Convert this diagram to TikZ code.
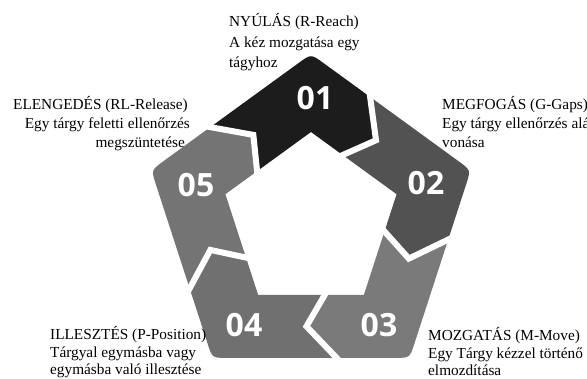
\documentclass[tikz,border=0pt]{standalone}
\usepackage{fontspec}
\setmainfont{Liberation Serif}
\newfontfamily\numfont{Open Sans}
\usetikzlibrary{calc}
\definecolor{segA}{HTML}{1C1C1C}
\definecolor{segB}{HTML}{525252}
\definecolor{segC}{HTML}{7A7A7A}
\definecolor{segD}{HTML}{707070}
\definecolor{segE}{HTML}{747474}
\begin{document}
\begin{tikzpicture}[x=1pt,y=1pt,
  lbl/.style={font=\fontsize{15.3}{19}\selectfont, inner sep=0pt, text=black},
  num/.style={font=\numfont\bfseries\fontsize{32}{32}\selectfont, text=white, inner sep=0pt},
  gapline/.style={draw=white, line width=6pt, line join=miter}]
\useasboundingbox (0,0) rectangle (587,-378);
\fill[white] (0,0) rectangle (587,-378);
\coordinate (C) at (311,-222);
\foreach \k in {0,...,4}{
  \pgfmathsetmacro\ang{90-72*\k}
  \coordinate (O\k) at ($(C)+(\ang:168)$);
  \coordinate (I\k) at ($(C)+(\ang:90)$);
  \coordinate (M\k) at ($(C)+(\ang:129)$);
}
\foreach \k in {0,...,4}{
  \pgfmathtruncatemacro\n{mod(\k+1,5)}
  \pgfmathtruncatemacro\p{mod(\k+4,5)}
  \coordinate (Bo\k) at ($(O\k)!0.37!(O\n)$);
  \coordinate (Bm\k) at ($(M\k)!0.53!(M\n)$);
  \coordinate (Bi\k) at ($(I\k)!0.37!(I\n)$);
  \coordinate (Ra\k) at ($(O\k)!15pt!(O\p)$);
  \coordinate (Rb\k) at ($(O\k)!15pt!(O\n)$);
}
\foreach \k/\c in {0/segA,1/segB,2/segC,3/segD,4/segE}{
  \pgfmathtruncatemacro\p{mod(\k+4,5)}
  \fill[\c] (Bo\p) -- (Ra\k) .. controls (O\k) .. (Rb\k) -- (Bo\k) -- (Bm\k) -- (Bi\k)
     -- (I\k) -- (Bi\p) -- (Bm\p) -- cycle;
}
\foreach \k in {0,...,4}{
  \draw[gapline] ($(Bo\k)!-6pt!(Bm\k)$) -- (Bm\k) -- ($(Bi\k)!-6pt!(Bm\k)$);
}
\node[num] (n1) at (315,-98) {01};
\node[num] (n2) at (426,-183) {02};
\node[num] (n3) at (379,-325) {03};
\node[num] (n4) at (244,-325) {04};
\node[num] (n5) at (196,-185) {05};
% labels
\node[lbl, anchor=base west] (ta1) at (229,-26) {NYÚLÁS (R-Reach)};
\node[lbl, anchor=base west] (ta2) at (229,-47) {A kéz mozgatása egy};
\node[lbl, anchor=base west] (ta3) at (229,-67) {tágyhoz};
\node[lbl, anchor=base east] (tb1) at (188,-109) {ELENGEDÉS (RL-Release)};
\node[lbl, anchor=base east] (tb2) at (190,-128) {Egy tárgy feletti ellenőrzés};
\node[lbl, anchor=base east] (tb3) at (185,-147) {megszüntetése};
\node[lbl, anchor=base west] (tc1) at (442,-109) {MEGFOGÁS (G-Gaps)};
\node[lbl, anchor=base west] (tc2) at (442,-128) {Egy tárgy ellenőrzés alá};
\node[lbl, anchor=base west] (tc3) at (442,-147) {vonása};
\node[lbl, anchor=base west] (td1) at (428,-340) {MOZGATÁS (M-Move)};
\node[lbl, anchor=base west] (td2) at (428,-358) {Egy Tárgy kézzel történő};
\node[lbl, anchor=base west] (td3) at (428,-375) {elmozdítása};
\node[lbl, anchor=base west] (te1) at (50,-339) {ILLESZTÉS (P-Position)};
\node[lbl, anchor=base west] (te2) at (50,-357) {Tárgyal egymásba vagy};
\node[lbl, anchor=base west] (te3) at (50,-374) {egymásba való illesztése};
\end{tikzpicture}
\end{document}
